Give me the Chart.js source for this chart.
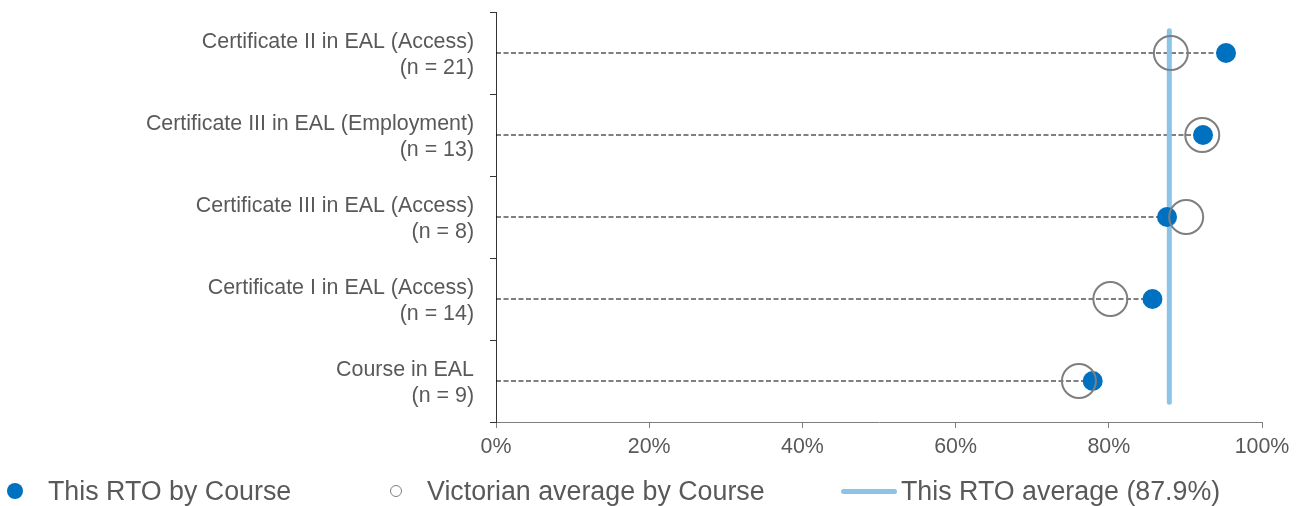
<!DOCTYPE html>
<html>
<head>
<meta charset="utf-8">
<script src="https://cdn.jsdelivr.net/npm/chart.js@4.4.1/dist/chart.umd.min.js"></script>
<style>
    html, body { margin: 0; padding: 0; background: #ffffff; }
    #wrap { position: relative; width: 1306px; height: 506px; }
    #legend { position: absolute; left: 0; top: 476px; width: 1306px; height: 30px;
              font-family: "Liberation Sans", Arial, sans-serif; font-size: 26.8px; color: #595959; }
    .item { position: absolute; top: 0; height: 30px; display: flex; align-items: center; white-space: nowrap; }
    .mark { display: inline-block; flex: none; }
</style>
</head>
<body>
<div id="wrap">
    <canvas id="courseChart" width="1306" height="506"></canvas>
    <div id="legend"></div>
</div>
<script>
const courses = [
    'Certificate II in EAL (Access)',
    'Certificate III in EAL (Employment)',
    'Certificate III in EAL (Access)',
    'Certificate I in EAL (Access)',
    'Course in EAL'
];
const courseN = [21, 13, 8, 14, 9];
const rtoByCourse = [95.3, 92.3, 87.6, 85.7, 77.9];
const vicByCourse = [88.1, 92.2, 90.1, 80.2, 76.1];
const rtoAverage = 87.9;
const xTicks = [0, 20, 40, 60, 80, 100];

const labels = courses.map((c, i) => [c, '(n = ' + courseN[i] + ')']);

const blue = '#0070C0';
const grey = '#7f7f7f';
const lightBlue = '#8DC3E6';
const textColor = '#595959';
const font = { family: '"Liberation Sans", Arial, sans-serif', size: 21.4 };

// dashed leader from 0 to each course value
const leaders = labels.map((l, i) => ({
    label: 'leader' + i,
    data: [{ x: 0, y: l }, { x: rtoByCourse[i], y: l }],
    borderColor: '#000000',
    borderWidth: 1,
    borderDash: [5, 2.5],
    pointRadius: 0,
    showLine: true,
    clip: false
}));

const ctx = document.getElementById('courseChart');
new Chart(ctx, {
    type: 'line',
    data: {
        labels: labels,
        datasets: [
            {
                label: 'Victorian average by Course',
                data: labels.map((l, i) => ({ x: vicByCourse[i], y: l })),
                showLine: false,
                pointRadius: 17,
                pointBorderWidth: 2,
                pointBorderColor: grey,
                pointBackgroundColor: 'rgba(0,0,0,0)',
                clip: false
            },
            {
                label: 'This RTO by Course',
                data: labels.map((l, i) => ({ x: rtoByCourse[i], y: l })),
                showLine: false,
                pointRadius: 10,
                pointBorderWidth: 0,
                pointBackgroundColor: blue,
                clip: false
            },
            {
                label: 'This RTO average (' + rtoAverage + '%)',
                yAxisID: 'y2',
                data: [{ x: rtoAverage, y: -0.27 }, { x: rtoAverage, y: 4.26 }],
                borderColor: lightBlue,
                borderWidth: 5,
                borderCapStyle: 'round',
                pointRadius: 0,
                clip: false
            },
            ...leaders
        ]
    },
    options: {
        indexAxis: 'y',
        responsive: false,
        animation: false,
        layout: { autoPadding: false, padding: { top: 12, right: 44, left: 0, bottom: 0 } },
        plugins: {
            legend: { display: false },
            tooltip: { enabled: false }
        },
        scales: {
            x: {
                type: 'linear',
                min: 0,
                max: 100,
                afterBuildTicks: (scale) => { scale.ticks = xTicks.map(v => ({ value: v })); },
                afterFit: (scale) => {
                    scale.height = 84;
                    scale.paddingLeft = 0;
                    scale.paddingRight = 0;
                },
                ticks: {
                    color: textColor,
                    font: font,
                    padding: 6,
                    callback: (v) => v + '%'
                },
                grid: { drawOnChartArea: false, tickLength: 6, color: grey },
                border: { color: grey, width: 1 }
            },
            y: {
                type: 'category',
                offset: true,
                afterFit: (scale) => {
                    scale.width = 496;
                    scale.paddingTop = 0;
                    scale.paddingBottom = 0;
                },
                ticks: { color: textColor, font: font, padding: 16, labelOffset: 2 },
                grid: { offset: true, drawOnChartArea: false, tickLength: 6, color: '#333333' },
                border: { color: '#333333', width: 1 }
            },
            y2: {
                type: 'linear',
                display: false,
                reverse: true,
                min: -0.5,
                max: 4.5
            }
        }
    }
});

// legend below the chart
const legendItems = [
    { text: 'This RTO by Course', left: 7, css: 'width:16px;height:16px;border-radius:50%;background:' + blue + ';margin-right:25px;' },
    { text: 'Victorian average by Course', left: 390, css: 'width:10px;height:10px;border-radius:50%;border:1.5px solid ' + grey + ';margin-right:25px;' },
    { text: 'This RTO average (' + rtoAverage + '%)', left: 841, css: 'width:56px;height:5px;border-radius:3px;background:' + lightBlue + ';margin-right:4px;' }
];
const legend = document.getElementById('legend');
legendItems.forEach(it => {
    const div = document.createElement('div');
    div.className = 'item';
    div.style.left = it.left + 'px';
    const m = document.createElement('span');
    m.className = 'mark';
    m.style.cssText = it.css;
    const t = document.createElement('span');
    t.textContent = it.text;
    div.appendChild(m);
    div.appendChild(t);
    legend.appendChild(div);
});
</script>
</body>
</html>
